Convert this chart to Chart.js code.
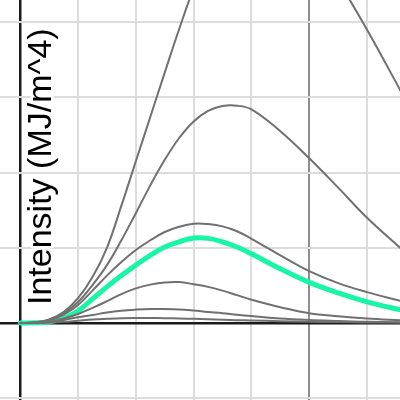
<!DOCTYPE html>
<html>
<head>
<meta charset="utf-8">
<script src="https://cdn.jsdelivr.net/npm/chart.js@4.4.0/dist/chart.umd.min.js"></script>
<style>
  html, body { margin: 0; padding: 0; background: #fff; }
</style>
</head>
<body>
<canvas id="chart" width="400" height="400"></canvas>
<script>
// x positions shared by every curve (grid units)
const xs = [0, 0.25, 0.5, 0.75, 1, 1.25, 1.5, 1.75, 2, 2.25, 2.5, 2.75, 3, 3.25, 3.5, 3.75, 4, 4.5, 5, 5.5, 6, 6.6];

// grey curves, tallest first
const curve1 = [0, 0.007, 0.047, 0.146, 0.33, 0.61, 1.0, 1.56, 2.15, 2.74, 3.33, 3.91, 4.45, 4.9, 5.25, 5.48, 5.6, 5.55, 5.15, 4.55, 3.9, 3.06];
const curve2 = [0, 0.007, 0.04, 0.13, 0.28, 0.505, 0.77, 1.10, 1.46, 1.83, 2.17, 2.46, 2.68, 2.82, 2.885, 2.89, 2.84, 2.55, 2.19, 1.80, 1.40, 0.98];
const curve3 = [0, 0.004, 0.03, 0.11, 0.24, 0.43, 0.63, 0.81, 0.97, 1.10, 1.21, 1.28, 1.32, 1.315, 1.285, 1.22, 1.12, 0.90, 0.69, 0.53, 0.41, 0.29];
const curve5 = [0, 0.002, 0.013, 0.06, 0.12, 0.2, 0.29, 0.385, 0.46, 0.51, 0.54, 0.545, 0.515, 0.48, 0.43, 0.37, 0.31, 0.21, 0.13, 0.09, 0.06, 0.035];
const curve6 = [0, 0.001, 0.013, 0.04, 0.076, 0.106, 0.14, 0.164, 0.178, 0.186, 0.186, 0.18, 0.165, 0.146, 0.13, 0.11, 0.093, 0.06, 0.04, 0.027, 0.016, 0.01];
const curve7 = [0, 0, 0.005, 0.015, 0.03, 0.045, 0.055, 0.063, 0.066, 0.066, 0.064, 0.06, 0.055, 0.05, 0.044, 0.038, 0.033, 0.024, 0.017, 0.012, 0.008, 0.005];

// highlighted curve (green)
const curveGreen = [0, 0.003, 0.013, 0.066, 0.16, 0.32, 0.48, 0.63, 0.77, 0.90, 1.01, 1.08, 1.13, 1.125, 1.08, 1.01, 0.92, 0.72, 0.54, 0.40, 0.28, 0.17];

// grid lines
const gridX = [0, 1, 2, 3, 4, 5, 6];
const gridY = [-1, 0, 1, 2, 3, 4];

const yTitle = 'Intensity (MJ/m^4)';

const GREY = '#707070';
const GREEN = '#19f5a6';

function toPoints(ys) {
    return xs.map((x, i) => ({ x: x, y: ys[i] }));
}

function greyLine(ys) {
    return {
        data: toPoints(ys),
        borderColor: GREY,
        borderWidth: 2,
        order: 0
    };
}

// colour / width of a grid line: axis black, every 5th a darker grey
function gridColor(ctx) {
    const v = ctx.tick.value;
    if (v === 0) return '#1a1a1a';
    if (v % 5 === 0) return '#8e8e8e';
    return '#dcdcdc';
}
function gridWidth(ctx) {
    return ctx.tick.value === 0 ? 2.5 : 2;
}

// y axis title drawn inside the plot, with a white halo like the original
const titlePlugin = {
    id: 'yTitle',
    afterDraw(chart) {
        const ctx = chart.ctx;
        ctx.save();
        ctx.translate(51, 305);
        ctx.rotate(-Math.PI / 2);
        ctx.font = '34px "Liberation Sans", Arial, sans-serif';
        ctx.textAlign = 'left';
        ctx.textBaseline = 'alphabetic';
        ctx.lineJoin = 'round';
        ctx.lineWidth = 5;
        ctx.strokeStyle = '#fff';
        ctx.strokeText(yTitle, 0, 0);
        ctx.fillStyle = '#000';
        ctx.fillText(yTitle, 0, 0);
        ctx.restore();
    }
};

new Chart(document.getElementById('chart'), {
    type: 'line',
    data: {
        datasets: [
            greyLine(curve1),
            greyLine(curve2),
            greyLine(curve3),
            {
                data: toPoints(curveGreen),
                borderColor: GREEN,
                borderWidth: 5,
                order: 1
            },
            greyLine(curve5),
            greyLine(curve6),
            greyLine(curve7)
        ]
    },
    options: {
        responsive: false,
        animation: false,
        devicePixelRatio: 1,
        layout: { padding: 0 },
        elements: {
            point: { radius: 0 },
            line: { tension: 0.4, borderCapStyle: 'round' }
        },
        plugins: {
            legend: { display: false },
            tooltip: { enabled: false }
        },
        scales: {
            x: {
                type: 'linear',
                min: -0.35,
                max: 6.57,
                afterBuildTicks: s => { s.ticks = gridX.map(v => ({ value: v })); },
                ticks: { display: false },
                border: { display: false },
                grid: { drawTicks: false, color: gridColor, lineWidth: gridWidth }
            },
            y: {
                type: 'linear',
                min: -1.024,
                max: 4.295,
                afterBuildTicks: s => { s.ticks = gridY.map(v => ({ value: v })); },
                ticks: { display: false },
                border: { display: false },
                grid: { drawTicks: false, color: gridColor, lineWidth: gridWidth }
            }
        }
    },
    plugins: [titlePlugin]
});
</script>
</body>
</html>
